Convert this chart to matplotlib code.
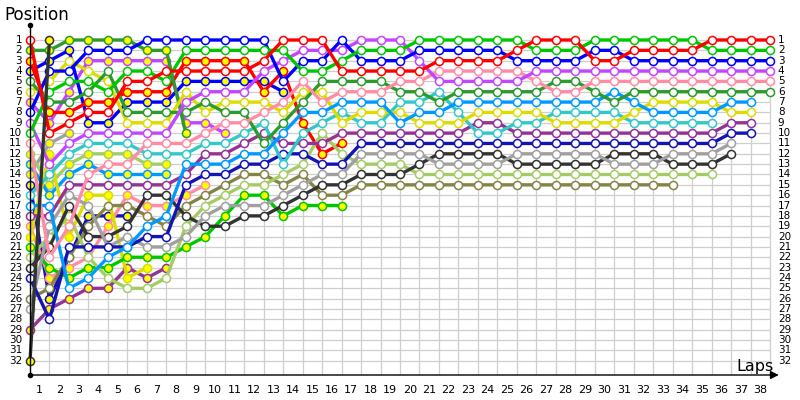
import matplotlib
matplotlib.use("Agg")
import matplotlib.pyplot as plt

laps = list(range(0, 39))
positions = list(range(1, 33))

# team colours
team_colors = {
    "red": "#ff0000", "green": "#00c800", "blue": "#0000ff", "violet": "#c444ff",
    "pink": "#ff8ca4", "darkgreen": "#2c9a2c", "lightblue": "#0099ff", "yellow": "#dcdc00",
    "teal": "#33c8c8", "purple": "#963296", "darkblue": "#1414b4", "gray": "#a0a0a0",
    "darkgray": "#333333", "lightgreen": "#a4cc66", "olive": "#848444",
}

# positions per lap (index = lap, starting at lap 0 = grid)
red_w = [1,10,9,8,8,5,5,4,4,4, 4,4,3,1,1,1,4,4,4,4, 4,3,3,3,3,2,1,1,1,3, 3,2,2,2,2,1,1,1,1]
green_w = [10,6,5,5,6,4,4,5,2,2, 2,2,2,2,4,4,3,2,2,2, 1,1,1,1,1,1,2,2,2,1, 1,1,1,1,1,2,2,2,2]
blue_w = [8,4,4,2,2,2,1,1,1,1, 1,1,1,5,3,3,1,3,3,3, 2,2,2,2,2,3,3,3,3,2, 2,3,3,3,3,3,3,3,3]
violet_w = [9,13,11,10,10,10,10,10,7,6, 6,6,4,3,2,2,2,1,1,1, 3,5,5,5,5,5,4,4,4,4, 4,4,4,4,4,4,4,4,4]
pink_w = [11,22,19,14,13,13,11,11,11,10, 9,9,8,7,5,7,6,6,6,5, 5,4,4,4,4,4,5,6,6,5, 5,5,5,5,5,5,5,5,5]
darkgreen_w = [5,7,7,6,4,8,8,8,8,7, 8,8,11,9,7,5,5,5,5,6, 6,7,6,6,6,6,6,5,5,6, 7,6,6,6,6,6,6,6,6]
lightblue_w = [17,17,25,24,22,21,19,18,13,13, 13,12,12,10,8,8,7,7,7,9, 8,8,7,7,7,7,7,7,7,7, 6,7,8,8,8,8,7,7]
yellow_w = [6,5,3,4,5,9,9,9,6,8, 7,7,7,8,6,6,9,8,8,8, 9,9,9,8,8,8,8,9,9,9, 9,8,7,7,7,7,8,8]
teal_w = [16,14,12,11,11,11,12,12,12,11, 11,10,9,13,10,9,8,9,9,7, 7,6,8,10,10,9,9,8,8,8, 8,9,9,9,9,9]
purple_w = [18,18,15,15,15,15,15,15,14,12, 12,11,10,11,11,11,10,10,10,10, 10,10,10,9,9,10,10,10,10,10, 10,10,10,10,10,10,9,9]
darkblue_w = [24,28,21,21,21,21,20,20,15,14, 14,13,13,12,12,13,13,11,11,11, 11,11,11,11,11,11,11,11,11,11, 11,11,11,11,11,11,10,10]
gray_w = [27,19,16,17,21,20,21,21,20,18, 17,17,17,16,15,14,14,12,12,12, 12,13,13,13,13,12,12,12,12,12, 13,13,13,12,12,12,11]
darkgray_w = [23,21,17,20,20,19,16,16,18,19, 19,18,18,17,16,15,15,14,14,14, 13,12,12,12,12,13,13,13,13,13, 12,12,12,13,13,13,12]
lightgreen_w = [22,20,18,22,24,25,25,24,19,17, 16,15,15,14,13,10,12,13,13,13, 14,14,14,14,14,14,14,14,14,14, 14,14,14,14,14,14]
olive_w = [26,25,22,19,17,17,18,19,17,16, 15,14,14,15,14,16,16,15,15,15, 15,15,15,15,15,15,15,15,15,15, 15,15,15,15]

darkgray_y = [32, 1]
darkgreen_y = [2,2,1,1,1,1,2,2,10]
red_y = [3,8,8,7,7,6,6,6,3,3, 3,3,6,4,9,12,11]
blue_y = [4,3,2,9,9,7,7,7,5,5, 5,5,5,6]
violet_y = [7,9,6,3,3,3,3,3,9,9, 10]
green_y = [21,23,24,23,23,22,22,22,21,20, 18,16,16,18,17,17,17]
yellow_y = [20,12,20,16,16,24,23]
pink_y = [19,24,23,22,19,16,17,17,16,15]
darkblue_y = [15,26,22,18,18,18]
purple_y = [29,27,26,25,25,23,24,23]
lightblue_y = [13,16,14,13,14,14,14,14]
lightgreen_y = [12,15,13,12,12,12,13,13]
gray_y = [14,11,10]

# (team, marker fill, series) in drawing order
cars = [
    ("gray", "y", gray_y),
    ("lightgreen", "y", lightgreen_y), ("lightblue", "y", lightblue_y),
    ("purple", "y", purple_y), ("darkblue", "y", darkblue_y), ("pink", "y", pink_y),
    ("yellow", "y", yellow_y), ("green", "y", green_y), ("violet", "y", violet_y),
    ("blue", "y", blue_y), ("red", "y", red_y), ("darkgreen", "y", darkgreen_y),
    ("olive", "w", olive_w), ("lightgreen", "w", lightgreen_w),
    ("darkgray", "w", darkgray_w), ("gray", "w", gray_w),
    ("darkblue", "w", darkblue_w), ("purple", "w", purple_w), ("teal", "w", teal_w),
    ("yellow", "w", yellow_w), ("lightblue", "w", lightblue_w),
    ("darkgreen", "w", darkgreen_w), ("pink", "w", pink_w), ("violet", "w", violet_w),
    ("blue", "w", blue_w), ("green", "w", green_w), ("red", "w", red_w),
    ("darkgray", "y", darkgray_y),
]

fig = plt.figure(figsize=(8, 4), dpi=100)
fig.patch.set_facecolor("white")
ax = fig.add_axes([30/800, 25/400, 745/800, 350/400])
xmax = 38 + 5/19.474
ybot, ytop = 33.38, -0.45
ax.set_xlim(0, xmax)
ax.set_ylim(ybot, ytop)
ax.axis("off")

grid_c = "#cfcfcf"
ax.hlines(positions, 0, laps[-1], colors=grid_c, lw=0.9, zorder=1)
ax.vlines(laps[1:], 1, ybot, colors=grid_c, lw=0.9, zorder=1)

for i, (team, fill, series) in enumerate(cars):
    c = team_colors[team]
    xs = list(range(len(series)))
    ax.plot(xs, series, color=c, lw=2.4, marker="o", ms=5.8,
            mfc="#ffff00" if fill == "y" else "white", mec=c, mew=1.1,
            zorder=3 + i * 0.01, solid_capstyle="round", clip_on=False)

# axes lines
ax.plot([0, 0], [ybot, ytop], color="black", lw=1.0, zorder=5, clip_on=False)
ax.plot([0, 0], [ybot, ytop], ls="none", marker="o", ms=3, color="black", zorder=5, clip_on=False)
ax.annotate("", xy=(38.45, ybot), xytext=(0, ybot),
            arrowprops=dict(arrowstyle="-|>", color="black", lw=1.0, mutation_scale=12,
                            shrinkA=0, shrinkB=0), annotation_clip=False, zorder=5)

# tick labels
for p in positions:
    ax.text(-0.4, p, str(p), ha="right", va="center", fontsize=7.5, clip_on=False)
    ax.text(38.4, p, str(p), ha="left", va="center", fontsize=7.5, clip_on=False)
for n in laps[1:]:
    ax.text(n - 0.5, 34.85, str(n), ha="center", va="center", fontsize=8, clip_on=False)

fig.text(4/800, 1 - 15/400, "Position", ha="left", va="center", fontsize=12)
fig.text(774/800, 1 - 366/400, "Laps", ha="right", va="center", fontsize=11.5)

fig.savefig("out.png", dpi=100, facecolor="white")
